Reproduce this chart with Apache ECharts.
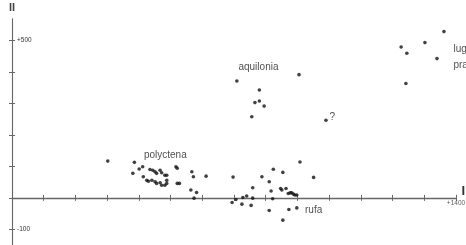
<!DOCTYPE html>
<html>
<head>
<meta charset="utf-8">
<script src="https://cdn.jsdelivr.net/npm/echarts@6/dist/echarts.min.js"></script>
<style>
  html, body { margin: 0; padding: 0; background: #fff; }
  #main { width: 466px; height: 245px; }
</style>
</head>
<body>
<div id="main"></div>
<script>
// point groups (x = axis I, y = axis II)
const polyctenaPts = [
  [302, 117], [386, 113], [381, 78], [401, 92], [412, 99], [414, 67], [425, 56], [430, 53],
  [435, 90], [444, 88], [451, 83], [456, 78], [467, 88], [472, 80], [482, 72], [488, 72],
  [441, 56], [451, 51], [456, 46], [467, 48], [472, 40], [482, 40], [488, 46], [488, 56],
  [517, 99], [521, 94], [521, 46], [528, 46], [567, 83], [572, 67], [612, 69],
  [564, 25], [582, 17], [574, -1]
]
const rufaPts = [
  [697, 66], [694, -15], [706, -5], [725, -20], [728, 1], [740, 6], [754, -24], [759, -1],
  [759, 32], [788, 67], [811, 51], [811, -40], [817, 22], [822, -3], [824, 91], [847, 30],
  [851, 25], [854, 81], [854, -71], [864, 30], [871, 14], [877, 16], [882, 16], [887, 12],
  [892, 9], [898, 9], [873, -37], [898, -32], [908, 114], [951, 65]
]
const aquiloniaPts = [
  [709, 372], [905, 392], [780, 343], [766, 303], [780, 308], [795, 292], [756, 258]
]
const unknownPts = [[990, 247]]
const lugPraPts = [
  [1362, 529], [1302, 494], [1227, 480], [1245, 460], [1340, 443], [1242, 364]
]

// group names written next to the clouds
const groupNames = ['polyctena', 'aquilonia', 'rufa', '?', 'lug', 'pra']
const groupX = [416, 714, 924, 1001, 1392, 1392]
const groupY = [137, 415, -39, 258, 474, 423]

// tick values and the few labelled ones
const xTicks = [0, 100, 200, 300, 400, 500, 600, 700, 800, 900, 1000, 1100, 1200, 1300, 1400]
const yTicks = [-100, 0, 100, 200, 300, 400, 500]
const xLabelled = [1400]
const yLabelled = [-100, 500]
const tickText = { 1400: '+1400', 500: '+500', '-100': '-100' }

const myChart = echarts.init(document.getElementById('main'))

const font = 'Liberation Sans, Arial, sans-serif'
const lineColor = '#666'
const grid = { left: 12, right: 10, top: 18.7, bottom: 0, outerBoundsMode: 'none', containLabel: false }

const pointSeries = [polyctenaPts, rufaPts, aquiloniaPts, unknownPts, lugPraPts].map(pts => ({
  type: 'scatter',
  xAxisIndex: 0,
  yAxisIndex: 0,
  symbolSize: 3.6,
  itemStyle: { color: '#111' },
  silent: true,
  data: pts
}))

const option = {
  animation: false,
  grid: [grid, grid],
  graphic: [
    // axis I name, just past the right end of the axis
    { type: 'text', right: 1, top: 185, style: { text: 'I', font: 'bold 13px ' + font, fill: '#333' } }
  ],
  xAxis: [
    {
      gridIndex: 0,
      type: 'value',
      min: 0,
      max: 1400,
      splitLine: { show: false },
      axisLine: { onZero: true, lineStyle: { color: lineColor, width: 1.3 } },
      axisTick: { length: 3, lineStyle: { color: lineColor }, customValues: xTicks },
      axisLabel: { show: false }
    },
    {
      gridIndex: 1,
      type: 'value',
      min: 0,
      max: 1400,
      splitLine: { show: false },
      axisLine: { show: false, onZero: true },
      axisTick: { inside: true, length: 3, lineStyle: { color: lineColor }, customValues: xTicks },
      axisLabel: { show: false }
    }
  ],
  yAxis: [
    {
      gridIndex: 0,
      type: 'value',
      min: -150,
      max: 570,
      name: 'II',
      nameLocation: 'end',
      nameGap: 5,
      nameTextStyle: { fontFamily: font, fontSize: 11, fontWeight: 'bold', color: '#444' },
      splitLine: { show: false },
      axisLine: { lineStyle: { color: lineColor, width: 1.1 } },
      axisTick: { length: 3, lineStyle: { color: lineColor }, customValues: yTicks },
      axisLabel: {
        inside: true,
        customValues: yLabelled,
        showMaxLabel: true,
        showMinLabel: true,
        margin: 5,
        fontFamily: font,
        fontSize: 6.5,
        color: '#333',
        formatter: v => tickText[v] || ''
      }
    },
    {
      gridIndex: 1,
      type: 'value',
      min: -150,
      max: 570,
      splitLine: { show: false },
      axisLine: { show: false },
      axisTick: { inside: true, length: 3, lineStyle: { color: lineColor }, customValues: yTicks },
      axisLabel: { show: false }
    }
  ],
  series: pointSeries.concat([
    {
      type: 'scatter',
      xAxisIndex: 0,
      yAxisIndex: 0,
      symbolSize: 0,
      silent: true,
      label: {
        show: true,
        position: 'right',
        distance: 0,
        fontFamily: font,
        fontSize: 10,
        color: '#222',
        formatter: p => p.data[2]
      },
      data: groupNames.map((n, i) => [groupX[i], groupY[i], n])
    },
    {
      // the x tick label sits under the axis line (which is on zero)
      type: 'scatter',
      xAxisIndex: 0,
      yAxisIndex: 0,
      symbolSize: 0,
      silent: true,
      label: {
        show: true,
        position: 'bottom',
        distance: 1.5,
        fontFamily: font,
        fontSize: 6.5,
        color: '#333',
        formatter: p => tickText[p.data[0]]
      },
      data: xLabelled.map(v => [v, 0])
    }
  ])
}

myChart.setOption(option)
</script>
</body>
</html>
